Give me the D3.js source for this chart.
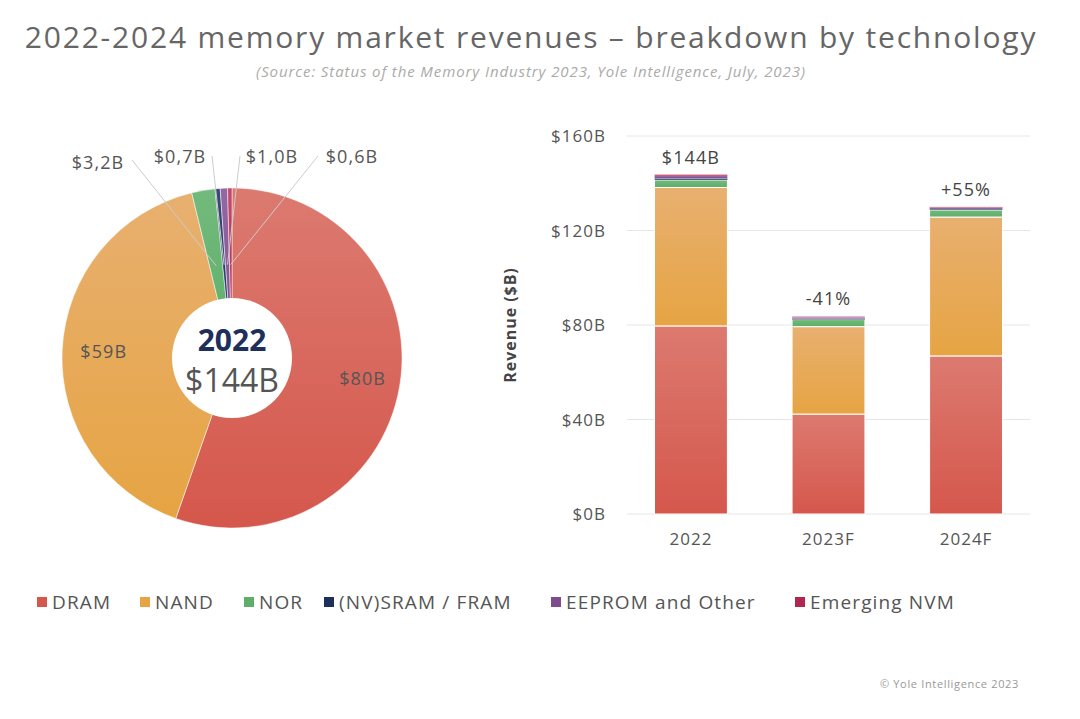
<!DOCTYPE html>
<html><head><meta charset="utf-8">
<script src="https://cdn.jsdelivr.net/npm/d3@7"></script>
<style>body{margin:0;background:#fff;} text{letter-spacing:0.06em;}</style>
</head><body><div id="chart"></div>
<script>
var svg = d3.select("#chart").append("svg").attr("width", 1080).attr("height", 719);
var font = "'Open Sans', sans-serif";

var techs = ["DRAM", "NAND", "NOR", "(NV)SRAM / FRAM", "EEPROM and Other", "Emerging NVM"];
var colors = ["#d5574c", "#e6a443", "#5eae6a", "#1f2f5c", "#7d4c8e", "#b0284f"];
var light = ["#dc7a70", "#e8b070", "#72ba7c", "#3a4a78", "#9468a3", "#c24a6a"];

var pieData = [80, 59, 3.2, 0.7, 1.0, 0.6];
var pieLabels = ["$80B", "$59B", "$3,2B", "$0,7B", "$1,0B", "$0,6B"];

var years = ["2022", "2023F", "2024F"];
var barData = [
  {year: "2022",  DRAM: 79.6, NAND: 58.6, NOR: 3.2, SRAM: 0.7, EEPROM: 1.0, EMERG: 0.6},
  {year: "2023F", DRAM: 42.3, NAND: 37.0, NOR: 3.0, SRAM: 0.4, EEPROM: 0.6, EMERG: 0.3},
  {year: "2024F", DRAM: 66.9, NAND: 58.8, NOR: 3.0, SRAM: 0.4, EEPROM: 0.6, EMERG: 0.3}
];
var keys = ["DRAM", "NAND", "NOR", "SRAM", "EEPROM", "EMERG"];
var topLabels = ["$144B", "-41%", "+55%"];

var defs = svg.append("defs");
colors.forEach(function(c, i) {
  var g = defs.append("linearGradient").attr("id", "g" + i)
    .attr("x1", 0).attr("y1", 0).attr("x2", 0).attr("y2", 1);
  g.append("stop").attr("offset", "0%").attr("stop-color", light[i]);
  g.append("stop").attr("offset", "100%").attr("stop-color", colors[i]);
});

// title
svg.append("text").attr("x", 531).attr("y", 48).attr("text-anchor", "middle")
  .attr("font-family", font).attr("font-size", 30).attr("fill", "#666")
  .text("2022-2024 memory market revenues \u2013 breakdown by technology");
svg.append("text").attr("x", 531).attr("y", 77).attr("text-anchor", "middle")
  .attr("font-family", font).attr("font-size", 15).attr("font-style", "italic").attr("fill", "#aaa")
  .text("(Source:  Status of the Memory Industry 2023, Yole Intelligence, July, 2023)");

// pie
var cx = 232, cy = 358, R = 170;
var pie = d3.pie().sort(null).value(function(d) { return d; });
var arcs = pie(pieData);
var arc = d3.arc().innerRadius(0).outerRadius(R);
var pg = svg.append("g").attr("transform", "translate(" + cx + "," + cy + ")");
pg.selectAll("path").data(arcs).enter().append("path")
  .attr("d", arc).attr("fill", function(d, i) { return "url(#g" + i + ")"; })
  .attr("stroke", "#fff").attr("stroke-width", 0.5);
pg.append("circle").attr("r", 60).attr("fill", "#fff");
pg.append("text").attr("y", -7).attr("text-anchor", "middle").attr("font-family", font)
  .attr("font-size", 30).attr("font-weight", "bold").attr("fill", "#1f2f5c").style("letter-spacing", "0").text("2022");
pg.append("text").attr("y", 34).attr("text-anchor", "middle").attr("font-family", font)
  .attr("font-size", 32).attr("fill", "#555").style("letter-spacing", "0").text("$144B");
// inside labels
var inArc = d3.arc().innerRadius(R * 0.72).outerRadius(R * 0.72);
[0, 1].forEach(function(i) {
  var p = inArc.centroid(arcs[i]);
  pg.append("text").attr("x", p[0] + (i == 0 ? 10 : -6)).attr("y", p[1] + 6).attr("text-anchor", "middle")
    .attr("font-family", font).attr("font-size", 18).attr("fill", "#555").text(pieLabels[i]);
});
// outside labels with leader lines
var outPos = [null, null, [98, 162], [180, 156], [272, 156], [352, 156]];
var lineEnd = [null, null, [132, 160], [212, 156], [240, 156], [318, 156]];
[2, 3, 4, 5].forEach(function(i) {
  var a = (arcs[i].startAngle + arcs[i].endAngle) / 2;
  var r0 = R * 0.55;
  var x0 = cx + Math.sin(a) * r0, y0 = cy - Math.cos(a) * r0;
  svg.append("polyline").attr("fill", "none").attr("stroke", "#ccc").attr("stroke-width", 1)
    .attr("points", [[x0, y0], lineEnd[i]].map(function(p) { return p.join(","); }).join(" "));
  svg.append("text").attr("x", outPos[i][0]).attr("y", outPos[i][1] + 7).attr("text-anchor", "middle")
    .attr("font-family", font).attr("font-size", 18).attr("fill", "#555").text(pieLabels[i]);
});

// bars
var x = d3.scaleBand().domain(years).range([627, 1030]).paddingInner(0.47).paddingOuter(0.2);
var y = d3.scaleLinear().domain([0, 160]).range([514, 136]);
var tv = [0, 40, 80, 120, 160];
var bg = svg.append("g");
bg.selectAll(".grid").data(tv).enter().append("line")
  .attr("x1", 627).attr("x2", 1030).attr("y1", function(d) { return y(d); }).attr("y2", function(d) { return y(d); })
  .attr("stroke", "#e6e6e6");
bg.selectAll(".tick").data(tv).enter().append("text")
  .attr("x", 606).attr("y", function(d) { return y(d) + 6; }).attr("text-anchor", "end")
  .attr("font-family", font).attr("font-size", 17).attr("fill", "#555").text(function(d) { return "$" + d + "B"; });
svg.append("text").attr("transform", "translate(516,325) rotate(-90)").attr("text-anchor", "middle")
  .attr("font-family", font).attr("font-size", 16).attr("font-weight", "bold").attr("fill", "#444")
  .text("Revenue ($B)");

var stack = d3.stack().keys(keys)(barData);
stack.forEach(function(s, i) {
  bg.selectAll(".b" + i).data(s).enter().append("rect")
    .attr("x", function(d) { return x(d.data.year); }).attr("width", x.bandwidth())
    .attr("y", function(d) { return y(d[1]); }).attr("height", function(d) { return y(d[0]) - y(d[1]); })
    .attr("fill", "url(#g" + i + ")").attr("stroke", "#fff").attr("stroke-width", i < 3 ? 1 : 0.2);
});
barData.forEach(function(d, i) {
  var tot = keys.reduce(function(s, k) { return s + d[k]; }, 0);
  svg.append("text").attr("x", x(d.year) + x.bandwidth() / 2).attr("y", y(tot) - 11).attr("text-anchor", "middle")
    .attr("font-family", font).attr("font-size", 18).attr("fill", "#444").text(topLabels[i]);
  svg.append("text").attr("x", x(d.year) + x.bandwidth() / 2).attr("y", 545).attr("text-anchor", "middle")
    .attr("font-family", font).attr("font-size", 17).attr("fill", "#555").text(d.year);
});

// legend
var lx = [37, 140, 244, 324, 551, 795];
techs.forEach(function(t, i) {
  svg.append("rect").attr("x", lx[i]).attr("y", 597).attr("width", 10).attr("height", 10).attr("fill", colors[i]);
  svg.append("text").attr("x", lx[i] + 15).attr("y", 609).attr("font-family", font).attr("font-size", 19)
    .attr("fill", "#555").text(t);
});
svg.append("text").attr("x", 1019).attr("y", 688).attr("text-anchor", "end").attr("font-family", font)
  .attr("font-size", 11).attr("fill", "#999").text("\u00a9 Yole Intelligence 2023");
</script></body></html>
